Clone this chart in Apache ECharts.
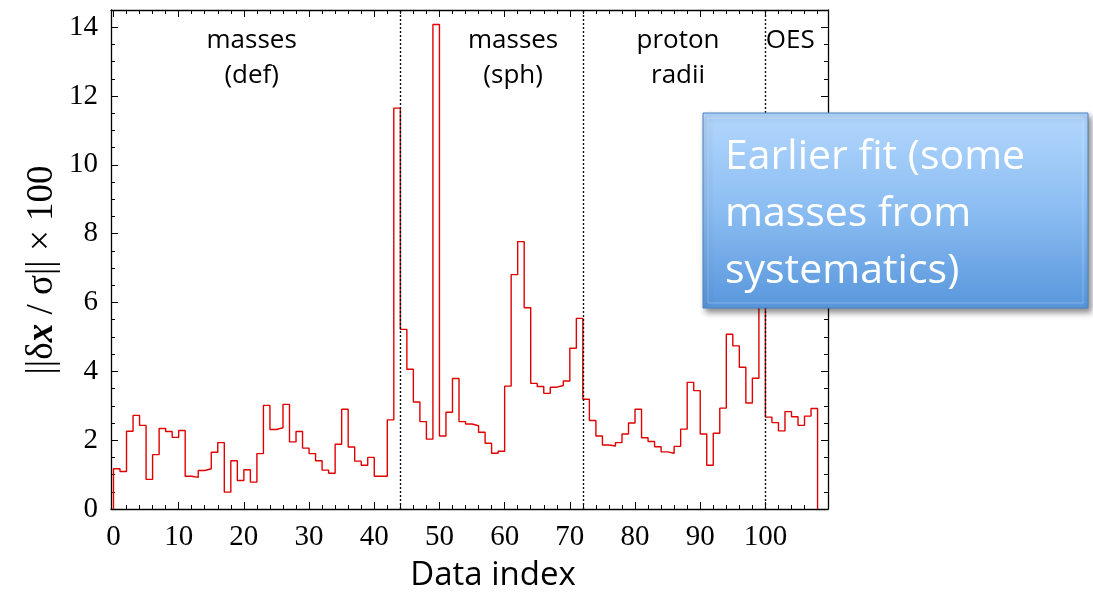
<!DOCTYPE html>
<html>
<head>
<meta charset="utf-8">
<script src="https://cdn.jsdelivr.net/npm/echarts@6/dist/echarts.min.js"></script>
<style>
html,body{margin:0;padding:0;background:#fff;}
#chart{width:1093px;height:595px;}
</style>
</head>
<body>
<div id="chart"></div>
<script>
// ---- data ----
const massesDef = [1.17,1.09,2.26,2.72,2.43,0.86,1.58,2.34,2.25,2.08,2.28,0.95,0.92,1.12,1.17,1.65,1.93,0.49,1.40,0.83,1.14,0.78,1.61,3.01,2.31,2.36,3.04,1.95,2.25,1.77,1.61,1.40,1.13,1.04,1.88,2.90,1.80,1.39,1.27,1.50,0.95,0.95,2.59,11.65];
const massesSph = [5.22,4.06,3.11,2.54,2.03,14.08,2.12,2.81,3.79,2.54,2.47,2.42,2.23,1.91,1.62,1.68,3.57,6.81,7.77,5.85,3.65,3.56,3.36,3.54,3.59,3.72,4.67,5.54];
const protonRadii = [3.19,2.57,2.12,1.86,1.83,1.93,2.18,2.50,2.90,2.07,1.96,1.81,1.66,1.62,1.82,2.32,3.68,3.44,2.18,1.27,2.20,2.93,5.08,4.74,4.12,3.08,3.80,8.0];
const oes = [2.67,2.51,2.27,2.83,2.68,2.43,2.70,2.92];
const groupBoundaries = [44, 72, 100];
const xTickLabels = [0,10,20,30,40,50,60,70,80,90,100];
const yTickLabels = [0,2,4,6,8,10,12,14];
const groupTitles = [
  {text:'masses\n(def)', at:21.2},
  {text:'masses\n(sph)', at:61.3},
  {text:'proton\nradii', at:86.6},
  {text:'OES', at:103.8}
];

const values = massesDef.concat(massesSph, protonRadii, oes);
// step histogram: bin i spans [i, i+1]
const stepData = [[0,0]];
values.forEach((v,i)=>stepData.push([i,v]));
stepData.push([values.length, 0]);

const xMin = -0.38, xMax = 109.6, yMin = 0, yMax = 14.5;
const xMinor = []; for (let v=0; v<=108; v+=2) xMinor.push(v);
const yMinor = []; for (let v=0; v<=14.5; v+=0.5) yMinor.push(v);

const axisLineStyle = {color:'#000', width:1.3};
function xAx(pos, major, labels){
  return {
    type:'value', position:pos, min:xMin, max:xMax,
    axisLine:{show:major, lineStyle:axisLineStyle, onZero:false},
    axisTick:{show:true, inside:true, length: major?7:4, customValues: major? xTickLabels : xMinor, lineStyle:{color:'#000', width:1}},
    axisLabel:{show:labels, customValues:xTickLabels, margin:14, color:'#000', fontFamily:'Liberation Serif', fontSize:29},
    splitLine:{show:false}
  };
}
function yAx(pos, major, labels){
  return {
    type:'value', position:pos, min:yMin, max:yMax,
    axisLine:{show:major, lineStyle:axisLineStyle, onZero:false},
    axisTick:{show:true, inside:true, length: major?7:4, customValues: major? yTickLabels : yMinor, lineStyle:{color:'#000', width:1}},
    axisLabel:{show:labels, customValues:yTickLabels, margin:13, color:'#000', fontFamily:'Liberation Serif', fontSize:29},
    splitLine:{show:false}
  };
}

const chart = echarts.init(document.getElementById('chart'), null, {renderer:'canvas'});
const option = {
  animation:false,
  backgroundColor:'#fff',
  grid:{left:111, right:265, top:10, bottom:86, containLabel:false},
  xAxis:[xAx('bottom',true,true), xAx('bottom',false,false), xAx('top',true,false), xAx('top',false,false)],
  yAxis:[yAx('left',true,true), yAx('left',false,false), yAx('right',true,false), yAx('right',false,false)],
  series:[{
    type:'line', xAxisIndex:0, yAxisIndex:0,
    data: stepData, step:'end', symbol:'none',
    lineStyle:{color:'#e00000', width:1.4},
    markLine:{
      silent:true, symbol:'none', label:{show:false},
      lineStyle:{color:'#111', type:[2,2], width:1.4},
      data: groupBoundaries.map(b=>({xAxis:b}))
    }
  }]
};
chart.setOption(option);

// annotations placed via the axis scale
const graphics = groupTitles.map(g=>{
  const p = chart.convertToPixel({xAxisIndex:0, yAxisIndex:0}, [g.at, 14.5]);
  return {type:'text', x:p[0], y:23, style:{text:g.text, fill:'#000', font:'26px "Open Sans"', align:'center', verticalAlign:'top', lineHeight:35}};
});
graphics.push({type:'text', x:493, y:576, style:{text:'Data index', fill:'#000', font:'33px "Open Sans"', align:'center', verticalAlign:'middle'}});
graphics.push({type:'text', x:42, y:270, rotation:Math.PI/2, style:{
  text:'{n|||δ}{b|x}{n| / σ|| × 100}', align:'center', verticalAlign:'middle',
  rich:{n:{font:'37px "Liberation Serif"', fill:'#000'}, b:{font:'italic bold 37px "Liberation Serif"', fill:'#000'}}
}});
// overlay callout box
graphics.push({type:'rect', shape:{x:703, y:113, width:385, height:195}, z:100,
  style:{fill:new echarts.graphic.LinearGradient(0,0,0,1,[{offset:0,color:'#b3d7fd'},{offset:0.5,color:'#8bbdf2'},{offset:1,color:'#5896dc'}]),
  stroke:'#4a82c4', lineWidth:1, shadowBlur:6, shadowOffsetX:3, shadowOffsetY:4, shadowColor:'rgba(0,0,0,0.45)'}});
graphics.push({type:'rect', shape:{x:708, y:118, width:375, height:185}, z:100,
  style:{fill:'none', stroke:'rgba(255,255,255,0.25)', lineWidth:1}});
graphics.push({type:'text', x:725, y:129, z:101, style:{text:'Earlier fit (some\nmasses from\nsystematics)', fill:'#fff', font:'41px "Open Sans"', lineHeight:57, align:'left', verticalAlign:'top'}});
chart.setOption({graphic:graphics});
</script>
</body>
</html>
